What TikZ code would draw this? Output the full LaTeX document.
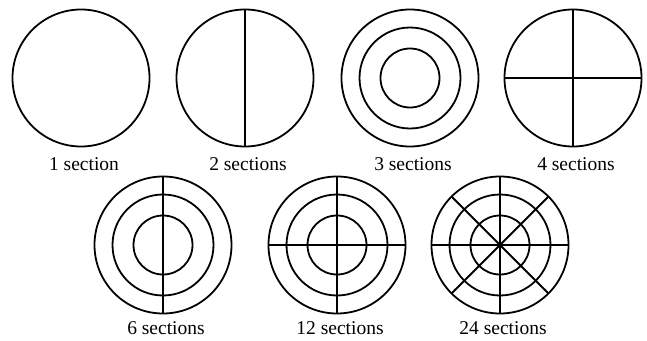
\documentclass[tikz,border=0pt]{standalone}
\usepackage{fontspec}
\setmainfont{Liberation Serif}
\usetikzlibrary{positioning}

\begin{document}
\begin{tikzpicture}[x=1pt,y=-1pt,line width=1.8pt,
    disc/.style={draw,circle,inner sep=0pt,outer sep=0pt,minimum size=#1},
    caption/.style={anchor=base,font=\fontsize{19.5}{22}\selectfont}]
  \useasboundingbox (0,0) rectangle (647,340);
  % top row
  \foreach \name/\x/\label in {one/81/{1 section},two/245/{2 sections},three/410/{3 sections},four/573/{4 sections}} {
    \node[disc=137pt] (\name) at (\x,78) {};
    \node[caption] (\name cap) at (\x+3,170) {\label};
  }
  % bottom row
  \foreach \name/\x/\label in {six/163/{6 sections},twelve/337/{12 sections},tfour/500/{24 sections}} {
    \node[disc=137pt] (\name) at (\x,245) {};
    \node[caption] (\name cap) at (\x+3,334) {\label};
  }
  % rings
  \foreach \name in {three,six,twelve,tfour} {
    \node[disc=101pt] (\name mid) at (\name) {};
    \node[disc=59pt] (\name in) at (\name) {};
  }
  % spokes
  \draw (two.north) -- (two.south);
  \draw (four.north) -- (four.south);
  \draw (four.west) -- (four.east);
  \draw (six.north) -- (six.south);
  \draw (twelve.north) -- (twelve.south);
  \draw (twelve.west) -- (twelve.east);
  \draw (tfour.north) -- (tfour.south);
  \draw (tfour.west) -- (tfour.east);
  \draw (tfour.north west) -- (tfour.south east);
  \draw (tfour.north east) -- (tfour.south west);
\end{tikzpicture}
\end{document}
